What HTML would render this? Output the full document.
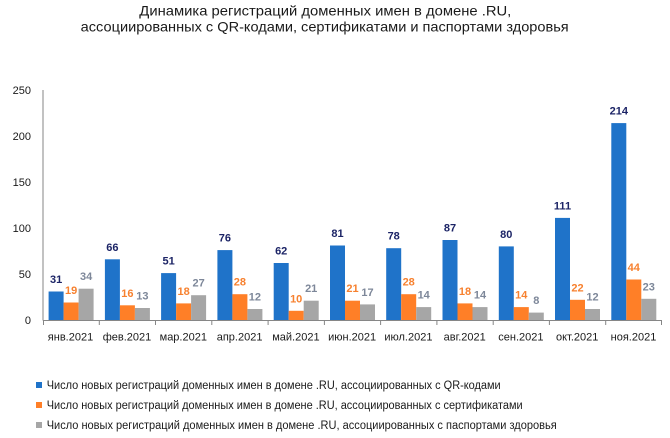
<!DOCTYPE html>
<html>
<head>
<meta charset="utf-8">
<style>
  html,body{margin:0;padding:0;background:#fff;}
  svg{display:block;}
  text{font-family:"Liberation Sans","DejaVu Sans",sans-serif;}
</style>
</head>
<body>
<svg width="670" height="438" viewBox="0 0 670 438" xmlns="http://www.w3.org/2000/svg">
  <rect width="670" height="438" fill="#fff"/>
  <!-- Title -->
  <text x="80.7" y="15.5" font-size="14" fill="#1a1a1a" textLength="0" style="display:none"></text>
  <text x="139.3" y="15.5" font-size="14" fill="#1a1a1a" textLength="372" lengthAdjust="spacingAndGlyphs">Динамика регистраций доменных имен в домене .RU,</text>
  <text x="80.7" y="31.5" font-size="14" fill="#1a1a1a" textLength="488" lengthAdjust="spacingAndGlyphs">ассоциированных с QR-кодами, сертификатами и паспортами здоровья</text>

  <!-- Y axis labels -->
  <g font-size="11" fill="#1a1a1a" text-anchor="end">
    <text x="31" y="94">250</text>
    <text x="31" y="140">200</text>
    <text x="31" y="186">150</text>
    <text x="31" y="232">100</text>
    <text x="31" y="278">50</text>
    <text x="31" y="324">0</text>
  </g>

  <g id="bars"></g>

  <!-- Axes -->
  <line x1="43" y1="90" x2="43" y2="320.5" stroke="#868686" stroke-width="1"/>
  <line x1="43" y1="320.5" x2="662" y2="320.5" stroke="#868686" stroke-width="1"/>
  <g stroke="#868686" stroke-width="1">
    <line x1="43.5" y1="320" x2="43.5" y2="325"/>
    <line x1="99.3" y1="320" x2="99.3" y2="325"/>
    <line x1="155.5" y1="320" x2="155.5" y2="325"/>
    <line x1="211.8" y1="320" x2="211.8" y2="325"/>
    <line x1="268.1" y1="320" x2="268.1" y2="325"/>
    <line x1="324.4" y1="320" x2="324.4" y2="325"/>
    <line x1="380.6" y1="320" x2="380.6" y2="325"/>
    <line x1="436.9" y1="320" x2="436.9" y2="325"/>
    <line x1="493.2" y1="320" x2="493.2" y2="325"/>
    <line x1="549.4" y1="320" x2="549.4" y2="325"/>
    <line x1="605.7" y1="320" x2="605.7" y2="325"/>
    <line x1="661.5" y1="320" x2="661.5" y2="325"/>
  </g>

  <!-- Bars (generated inline) -->
  <g>
    <!-- янв -->
    <rect x="48.6" y="291.5" width="15" height="28.5" fill="#1F73C9"/>
    <rect x="63.6" y="302.5" width="15" height="17.5" fill="#FF7F27"/>
    <rect x="78.6" y="288.7" width="15" height="31.3" fill="#A6A6A6"/>
    <!-- фев -->
    <rect x="104.9" y="259.3" width="15" height="60.7" fill="#1F73C9"/>
    <rect x="119.9" y="305.3" width="15" height="14.7" fill="#FF7F27"/>
    <rect x="134.9" y="308.0" width="15" height="12.0" fill="#A6A6A6"/>
    <!-- мар -->
    <rect x="161.1" y="273.1" width="15" height="46.9" fill="#1F73C9"/>
    <rect x="176.1" y="303.4" width="15" height="16.6" fill="#FF7F27"/>
    <rect x="191.1" y="295.2" width="15" height="24.8" fill="#A6A6A6"/>
    <!-- апр -->
    <rect x="217.4" y="250.1" width="15" height="69.9" fill="#1F73C9"/>
    <rect x="232.4" y="294.2" width="15" height="25.8" fill="#FF7F27"/>
    <rect x="247.4" y="309.0" width="15" height="11.0" fill="#A6A6A6"/>
    <!-- май -->
    <rect x="273.7" y="263.0" width="15" height="57.0" fill="#1F73C9"/>
    <rect x="288.7" y="310.8" width="15" height="9.2" fill="#FF7F27"/>
    <rect x="303.7" y="300.7" width="15" height="19.3" fill="#A6A6A6"/>
    <!-- июн -->
    <rect x="330.0" y="245.5" width="15" height="74.5" fill="#1F73C9"/>
    <rect x="345.0" y="300.7" width="15" height="19.3" fill="#FF7F27"/>
    <rect x="360.0" y="304.4" width="15" height="15.6" fill="#A6A6A6"/>
    <!-- июл -->
    <rect x="386.2" y="248.2" width="15" height="71.8" fill="#1F73C9"/>
    <rect x="401.2" y="294.2" width="15" height="25.8" fill="#FF7F27"/>
    <rect x="416.2" y="307.1" width="15" height="12.9" fill="#A6A6A6"/>
    <!-- авг -->
    <rect x="442.5" y="240.0" width="15" height="80.0" fill="#1F73C9"/>
    <rect x="457.5" y="303.4" width="15" height="16.6" fill="#FF7F27"/>
    <rect x="472.5" y="307.1" width="15" height="12.9" fill="#A6A6A6"/>
    <!-- сен -->
    <rect x="498.8" y="246.4" width="15" height="73.6" fill="#1F73C9"/>
    <rect x="513.8" y="307.1" width="15" height="12.9" fill="#FF7F27"/>
    <rect x="528.8" y="312.6" width="15" height="7.4" fill="#A6A6A6"/>
    <!-- окт -->
    <rect x="555.0" y="217.9" width="15" height="102.1" fill="#1F73C9"/>
    <rect x="570.0" y="299.8" width="15" height="20.2" fill="#FF7F27"/>
    <rect x="585.0" y="309.0" width="15" height="11.0" fill="#A6A6A6"/>
    <!-- ноя -->
    <rect x="611.3" y="123.1" width="15" height="196.9" fill="#1F73C9"/>
    <rect x="626.3" y="279.5" width="15" height="40.5" fill="#FF7F27"/>
    <rect x="641.3" y="298.8" width="15" height="21.2" fill="#A6A6A6"/>
  </g>

  <!-- Value labels -->
  <g font-size="11" font-weight="bold" text-anchor="middle">
    <g fill="#1C2466">
      <text x="56.1" y="283">31</text>
      <text x="112.4" y="250.8">66</text>
      <text x="168.6" y="264.6">51</text>
      <text x="224.9" y="241.6">76</text>
      <text x="281.2" y="254.5">62</text>
      <text x="337.5" y="237">81</text>
      <text x="393.7" y="239.7">78</text>
      <text x="450.0" y="231.5">87</text>
      <text x="506.3" y="237.9">80</text>
      <text x="562.5" y="209.4">111</text>
      <text x="618.8" y="114.6">214</text>
    </g>
    <g fill="#F7812F">
      <text x="71.1" y="294">19</text>
      <text x="127.4" y="296.8">16</text>
      <text x="183.6" y="294.9">18</text>
      <text x="239.9" y="285.7">28</text>
      <text x="296.2" y="302.3">10</text>
      <text x="352.5" y="292.2">21</text>
      <text x="408.7" y="285.7">28</text>
      <text x="465.0" y="294.9">18</text>
      <text x="521.3" y="298.6">14</text>
      <text x="577.5" y="291.3">22</text>
      <text x="633.8" y="271">44</text>
    </g>
    <g fill="#7D8799">
      <text x="86.1" y="280.2">34</text>
      <text x="142.4" y="299.5">13</text>
      <text x="198.6" y="286.7">27</text>
      <text x="254.9" y="300.5">12</text>
      <text x="311.2" y="292.2">21</text>
      <text x="367.5" y="295.9">17</text>
      <text x="423.7" y="298.6">14</text>
      <text x="480.0" y="298.6">14</text>
      <text x="536.3" y="304.1">8</text>
      <text x="592.5" y="300.5">12</text>
      <text x="648.8" y="290.3">23</text>
    </g>
  </g>

  <!-- X labels -->
  <g font-size="11" fill="#1a1a1a" text-anchor="middle">
    <text x="70.5" y="340.5">янв.2021</text>
    <text x="127" y="340.5">фев.2021</text>
    <text x="183.3" y="340.5">мар.2021</text>
    <text x="239.6" y="340.5">апр.2021</text>
    <text x="295.9" y="340.5">май.2021</text>
    <text x="352.1" y="340.5">июн.2021</text>
    <text x="408.4" y="340.5">июл.2021</text>
    <text x="464.7" y="340.5">авг.2021</text>
    <text x="520.9" y="340.5">сен.2021</text>
    <text x="577.2" y="340.5">окт.2021</text>
    <text x="633.5" y="340.5">ноя.2021</text>
  </g>

  <!-- Legend -->
  <rect x="36" y="382" width="6" height="6" fill="#1F73C9"/>
  <rect x="36" y="402" width="6" height="6" fill="#FF7F27"/>
  <rect x="36" y="422" width="6" height="6" fill="#A6A6A6"/>
  <g font-size="11.5" fill="#1a1a1a">
    <text x="46.7" y="389" textLength="454" lengthAdjust="spacingAndGlyphs">Число новых регистраций доменных имен в домене .RU, ассоциированных с QR-кодами</text>
    <text x="46.7" y="409" textLength="476" lengthAdjust="spacingAndGlyphs">Число новых регистраций доменных имен в домене .RU, ассоциированных с сертификатами</text>
    <text x="46.7" y="429" textLength="510" lengthAdjust="spacingAndGlyphs">Число новых регистраций доменных имен в домене .RU, ассоциированных с паспортами здоровья</text>
  </g>
</svg>
</body>
</html>
